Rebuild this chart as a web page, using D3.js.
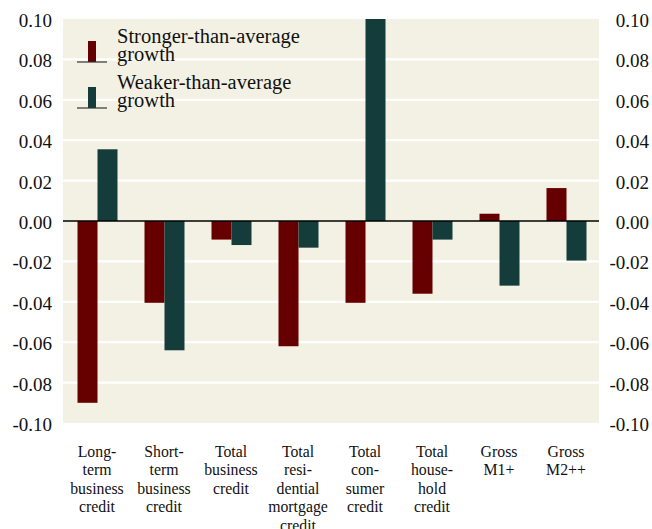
<!DOCTYPE html>
<html><head><meta charset="utf-8">
<script src="https://cdn.jsdelivr.net/npm/d3@7"></script>
<style>html,body{margin:0;padding:0;background:#fff}svg{display:block}
svg text{font-family:'Liberation Serif','Times New Roman',serif;}</style>
</head><body>
<script>
const categories = [
  ["Long-","term","business","credit"],
  ["Short-","term","business","credit"],
  ["Total","business","credit"],
  ["Total","resi-","dential","mortgage","credit"],
  ["Total","con-","sumer","credit"],
  ["Total","house-","hold","credit"],
  ["Gross","M1+"],
  ["Gross","M2++"]
];
const stronger = [-0.090, -0.0405, -0.0092, -0.0620, -0.0405, -0.0360, 0.0036, 0.0163];
const weaker   = [0.0355, -0.0640, -0.0119, -0.0132, 0.1000, -0.0092, -0.0320, -0.0196];
const yTicks = [-0.10,-0.08,-0.06,-0.04,-0.02,0.00,0.02,0.04,0.06,0.08,0.10];
const tickLabels = ["-0.10","-0.08","-0.06","-0.04","-0.02","0.00","0.02","0.04","0.06","0.08","0.10"];
const seriesNames = [["Stronger-than-average","growth"],["Weaker-than-average","growth"]];

(function(){
const W = 652, H = 529;
const mLeft = 63, mRight = 599, mTop = 19, mBottom = 423;
const colors = ["#660000", "#143c3a"];
const bg = "#f3f1e4";
const fontFam = "Liberation Serif";

const svg = d3.select("body").append("svg").attr("width", W).attr("height", H)
  .attr("font-family", fontFam);

const x = d3.scaleBand().domain(d3.range(categories.length)).range([mLeft, mRight]);
const y = d3.scaleLinear().domain([-0.10, 0.10]).range([mBottom, mTop]);

svg.append("rect").attr("x", mLeft).attr("y", mTop).attr("width", mRight-mLeft).attr("height", mBottom-mTop).attr("fill", bg);

svg.append("clipPath").attr("id","clip").append("rect").attr("x", mLeft).attr("y", mTop).attr("width", mRight-mLeft).attr("height", mBottom-mTop);

svg.append("g").selectAll("line").data(yTicks.filter(t => Math.abs(t) > 1e-9 && Math.abs(Math.abs(t)-0.10) > 1e-9))
  .join("line").attr("x1", mLeft).attr("x2", mRight)
  .attr("y1", d => y(d)).attr("y2", d => y(d))
  .attr("stroke", "#ffffff").attr("stroke-width", 2.2);

const barW = 20;
const g = svg.append("g").attr("clip-path","url(#clip)");
[stronger, weaker].forEach((vals, si) => {
  g.append("g").selectAll("rect").data(vals).join("rect")
    .attr("x", (d, i) => x(i) + x.bandwidth()/2 - barW + si*barW + 1)
    .attr("width", barW)
    .attr("y", d => y(Math.max(0, d)))
    .attr("height", d => Math.abs(y(d) - y(0)))
    .attr("fill", colors[si]);
});

svg.append("line").attr("x1", mLeft).attr("x2", mRight).attr("y1", y(0)).attr("y2", y(0))
  .attr("stroke", "#000").attr("stroke-width", 1.5);

const fmt = (d) => tickLabels[yTicks.findIndex(t => Math.abs(t - d) < 1e-9)];
const axL = d3.axisLeft(y).tickValues(yTicks).tickFormat(fmt).tickSize(0).tickPadding(6);
const axR = d3.axisRight(y).tickValues(yTicks).tickFormat(fmt).tickSize(0).tickPadding(0);
const gl = svg.append("g").attr("transform", `translate(${mLeft-5},1.5)`).call(axL);
const gr = svg.append("g").attr("transform", `translate(649,1.5)`).call(axR);
[gl, gr].forEach(a => {
  a.attr("font-family", fontFam).attr("font-size", 19);
  a.select(".domain").remove();
  a.selectAll("text").attr("fill", "#111");
});
gr.selectAll("text").attr("text-anchor", "end").attr("x", 0);

const cl = svg.append("g").attr("font-size", 15.8);
categories.forEach((lines, i) => {
  const cx = x(i) + x.bandwidth()/2 + 0.5;
  const t = cl.append("text").attr("x", cx).attr("y", 457)
    .attr("text-anchor", "middle").attr("fill", "#111");
  lines.forEach((ln, j) => t.append("tspan").attr("x", cx).attr("y", 457 + j*18.4).text(ln));
});

const leg = svg.append("g").attr("font-size", 20.5);
const legY = [62, 108];
legY.forEach((ly, i) => {
  leg.append("rect").attr("x", 88).attr("y", ly - 21).attr("width", 8).attr("height", 21).attr("fill", colors[i]);
  leg.append("line").attr("x1", 77).attr("x2", 107).attr("y1", ly).attr("y2", ly).attr("stroke", "#333").attr("stroke-width", 1.2);
  const t = leg.append("text").attr("fill", "#111");
  seriesNames[i].forEach((ln, j) => t.append("tspan").attr("x", 117).attr("y", ly - 19 + j*17.5).text(ln));
});
})();
</script>
</body></html>
